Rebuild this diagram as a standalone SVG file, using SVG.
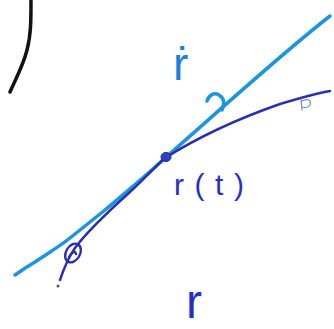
<svg xmlns="http://www.w3.org/2000/svg" width="334" height="329" viewBox="0 0 334 329">
<style>
.ink{fill:none;stroke-linecap:round;stroke-linejoin:round}
.blk{stroke:#111;stroke-width:3.5}
.cy{stroke:#1b95dc;stroke-width:3.5}
.db{stroke:#2a2fb0;stroke-width:2.4}
.lab{font-family:"Liberation Sans",Arial,sans-serif}
</style>
<rect width="334" height="329" fill="#fff"/>
<g id="black-curve">
<path class="ink blk" d="M31,1 C31,20 31,35 27,50 C23,66 16,78 10,92"/>
</g>
<g id="tangent-line">
<path class="ink cy" d="M15,275 C22,270 28,266 35,262 C50,252 60,246 70,238 C85,226 95,218 105,210 C125,193 148,174 165,158 C220,110 280,55 330,16"/>
<path class="ink cy" stroke-width="3" d="M207,101 C209,95 214,92 219,95 C224,98 225,103 222,110"/>
</g>
<g id="curve">
<path class="ink db" d="M60,280 C64,268 68,258 75,248 C88,230 110,210 130,192 C145,178 155,167 165,158 C200,136 240,118 280,104 C300,98 318,93 330,91"/>
<ellipse cx="73" cy="253" rx="7" ry="10" transform="rotate(30 73 253)" class="ink db" stroke-width="2"/>
<path class="ink db" stroke-width="1.5" d="M69,257 C72,252 75,250 76,254"/>
<circle cx="58" cy="286" r="1.5" fill="#556"/>
<ellipse cx="166" cy="157" rx="5" ry="4.5" fill="#2e3ec8" stroke="#1a2a90" stroke-width="1"/>
<path class="ink" stroke="#7a8ad0" stroke-width="1.3" d="M301,99 L302,110 M302,101 C307,98 312,100 310,105 C308,108 305,108 302,107"/>
</g>
<g id="labels">
<text x="173" y="80" class="lab" font-size="46" fill="#1a7fe0">ṙ</text>
<text x="174" y="195" class="lab" font-size="30" fill="#2530c8" textLength="70" lengthAdjust="spacing">r(t)</text>
<text x="186" y="318" class="lab" font-size="48" fill="#2530c8">r</text>
</g>
</svg>
